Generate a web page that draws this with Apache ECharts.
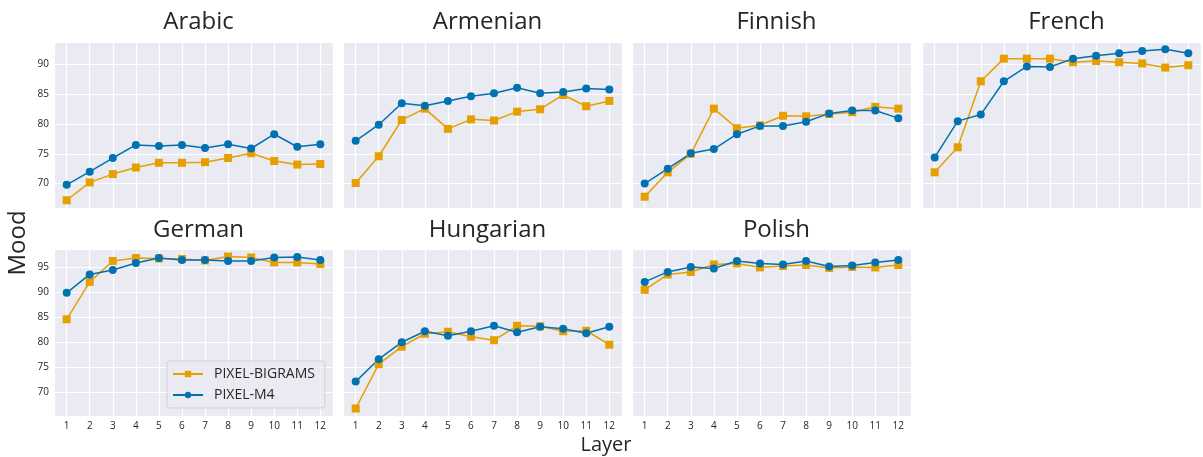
<!DOCTYPE html>
<html>
<head>
<meta charset="utf-8">
<script src="https://cdn.jsdelivr.net/npm/echarts@6/dist/echarts.min.js"></script>
<style>
  html, body { margin: 0; padding: 0; background: #fff; }
  #chart { width: 1203px; height: 457px; }
</style>
</head>
<body>
<div id="chart"></div>
<script>
// layers on the x axis
const layers = [1, 2, 3, 4, 5, 6, 7, 8, 9, 10, 11, 12];
const languages = ["Arabic", "Armenian", "Finnish", "French", "German", "Hungarian", "Polish"];
const seriesNames = ["PIXEL-BIGRAMS", "PIXEL-M4"];

// PIXEL-BIGRAMS
const arabicBigrams = [67.2, 70.2, 71.6, 72.7, 73.5, 73.5, 73.6, 74.3, 75.1, 73.8, 73.2, 73.3];
const armenianBigrams = [70.1, 74.6, 80.7, 82.6, 79.2, 80.8, 80.6, 82.1, 82.5, 84.9, 83.0, 83.9];
const finnishBigrams = [67.8, 71.9, 75.0, 82.6, 79.3, 79.8, 81.4, 81.3, 81.7, 82.0, 82.9, 82.6];
const frenchBigrams = [71.9, 76.1, 87.2, 91.0, 91.0, 91.0, 90.4, 90.6, 90.4, 90.2, 89.5, 89.9];
const germanBigrams = [84.6, 92.1, 96.3, 96.9, 96.8, 96.7, 96.4, 97.2, 97.0, 96.0, 96.0, 95.7];
const hungarianBigrams = [66.7, 75.6, 79.1, 81.7, 82.1, 81.1, 80.4, 83.3, 83.2, 82.2, 82.3, 79.5];
const polishBigrams = [90.5, 93.6, 94.1, 95.6, 95.8, 95.0, 95.3, 95.5, 94.9, 95.1, 95.0, 95.5];

// PIXEL-M4
const arabicM4 = [69.8, 72.0, 74.3, 76.5, 76.3, 76.5, 76.0, 76.6, 75.9, 78.3, 76.2, 76.6];
const armenianM4 = [77.2, 79.9, 83.5, 83.1, 83.9, 84.7, 85.2, 86.1, 85.2, 85.4, 86.0, 85.8];
const finnishM4 = [70.0, 72.5, 75.1, 75.8, 78.3, 79.7, 79.7, 80.4, 81.8, 82.3, 82.3, 81.0];
const frenchM4 = [74.4, 80.5, 81.6, 87.2, 89.7, 89.6, 91.0, 91.5, 91.9, 92.3, 92.6, 91.9];
const germanM4 = [89.9, 93.6, 94.5, 95.9, 96.9, 96.5, 96.5, 96.3, 96.3, 97.0, 97.1, 96.5];
const hungarianM4 = [72.1, 76.6, 80.0, 82.2, 81.3, 82.2, 83.3, 82.0, 83.1, 82.7, 81.8, 83.1];
const polishM4 = [92.1, 94.1, 95.1, 94.8, 96.3, 95.8, 95.6, 96.3, 95.2, 95.4, 96.0, 96.5];

const bigrams = [arabicBigrams, armenianBigrams, finnishBigrams, frenchBigrams, germanBigrams, hungarianBigrams, polishBigrams];
const m4 = [arabicM4, armenianM4, finnishM4, frenchM4, germanM4, hungarianM4, polishM4];

const ORANGE = "#E69F00";
const BLUE = "#0072B2";
const FONT = "Open Sans";
const TXT = "#262626";

// panel layout: 4 columns, 2 rows
const colLeft = [54, 343, 632, 922];
const panelW = 279;
const rowTop = [42, 249];
const rowH = [166, 167];
const rowY = [[65.9, 93.8], [65.2, 98.7]];

const grids = [], xAxes = [], yAxes = [], series = [], titles = [];

languages.forEach((lang, i) => {
  const row = i < 4 ? 0 : 1;
  const col = i < 4 ? i : i - 4;
  const showY = col === 0;
  const showX = row === 1;
  grids.push({
    left: colLeft[col], top: rowTop[row], width: panelW, height: rowH[row],
    show: true, backgroundColor: "#EAEAF2", borderWidth: 0
  });
  titles.push({
    text: lang,
    left: colLeft[col] + panelW / 2,
    top: row === 0 ? 5 : 213,
    textAlign: "center",
    textStyle: { fontFamily: FONT, fontSize: 24, fontWeight: "normal", color: TXT }
  });
  xAxes.push({
    type: "value", gridIndex: i, min: 0.45, max: 12.55, splitNumber: 12,
    axisLine: { show: false }, axisTick: { show: false },
    axisLabel: {
      show: showX, margin: 5, fontFamily: FONT, fontSize: 10, color: TXT,
      showMinLabel: false, showMaxLabel: false,
      formatter: v => (Number.isInteger(v) ? String(v) : "")
    },
    splitLine: { show: true, lineStyle: { color: "#ffffff", width: 1.2 } }
  });
  yAxes.push({
    type: "value", gridIndex: i, min: rowY[row][0], max: rowY[row][1], splitNumber: 5,
    axisLine: { show: false }, axisTick: { show: false },
    axisLabel: {
      show: showY, margin: 5, fontFamily: FONT, fontSize: 10, color: TXT,
      showMinLabel: false, showMaxLabel: false,
      formatter: v => (v % 5 === 0 ? String(v) : "")
    },
    splitLine: { show: true, lineStyle: { color: "#ffffff", width: 1.2 } }
  });
  series.push({
    name: seriesNames[0], type: "line", xAxisIndex: i, yAxisIndex: i,
    data: bigrams[i].map((v, k) => [layers[k], v]),
    symbol: "rect", symbolSize: 8,
    lineStyle: { color: ORANGE, width: 1.5 },
    itemStyle: { color: ORANGE },
    animation: false
  });
  series.push({
    name: seriesNames[1], type: "line", xAxisIndex: i, yAxisIndex: i,
    data: m4[i].map((v, k) => [layers[k], v]),
    symbol: "circle", symbolSize: 8,
    lineStyle: { color: BLUE, width: 1.5 },
    itemStyle: { color: BLUE },
    animation: false
  });
});

const chart = echarts.init(document.getElementById("chart"));
chart.setOption({
  animation: false,
  backgroundColor: "#ffffff",
  title: titles,
  grid: grids,
  xAxis: xAxes,
  yAxis: yAxes,
  series: series,
  legend: {
    data: seriesNames,
    orient: "vertical",
    left: 167, top: 361,
    itemWidth: 30, itemHeight: 8, itemGap: 7,
    padding: [6, 10, 6, 5],
    backgroundColor: "rgba(234,234,242,0.8)",
    borderColor: "#d0d0d8", borderWidth: 1, borderRadius: 3,
    textStyle: { fontFamily: FONT, fontSize: 14, color: TXT, padding: [0, 0, 0, 6] }
  },
  graphic: [
    {
      type: "text", x: 18, y: 243, rotation: Math.PI / 2,
      style: { text: "Mood", font: "24px 'Open Sans'", fill: TXT, textAlign: "center", textVerticalAlign: "middle" }
    },
    {
      type: "text", x: 606, y: 445,
      style: { text: "Layer", font: "20px 'Open Sans'", fill: TXT, textAlign: "center", textVerticalAlign: "middle" }
    }
  ]
});
</script>
</body>
</html>
